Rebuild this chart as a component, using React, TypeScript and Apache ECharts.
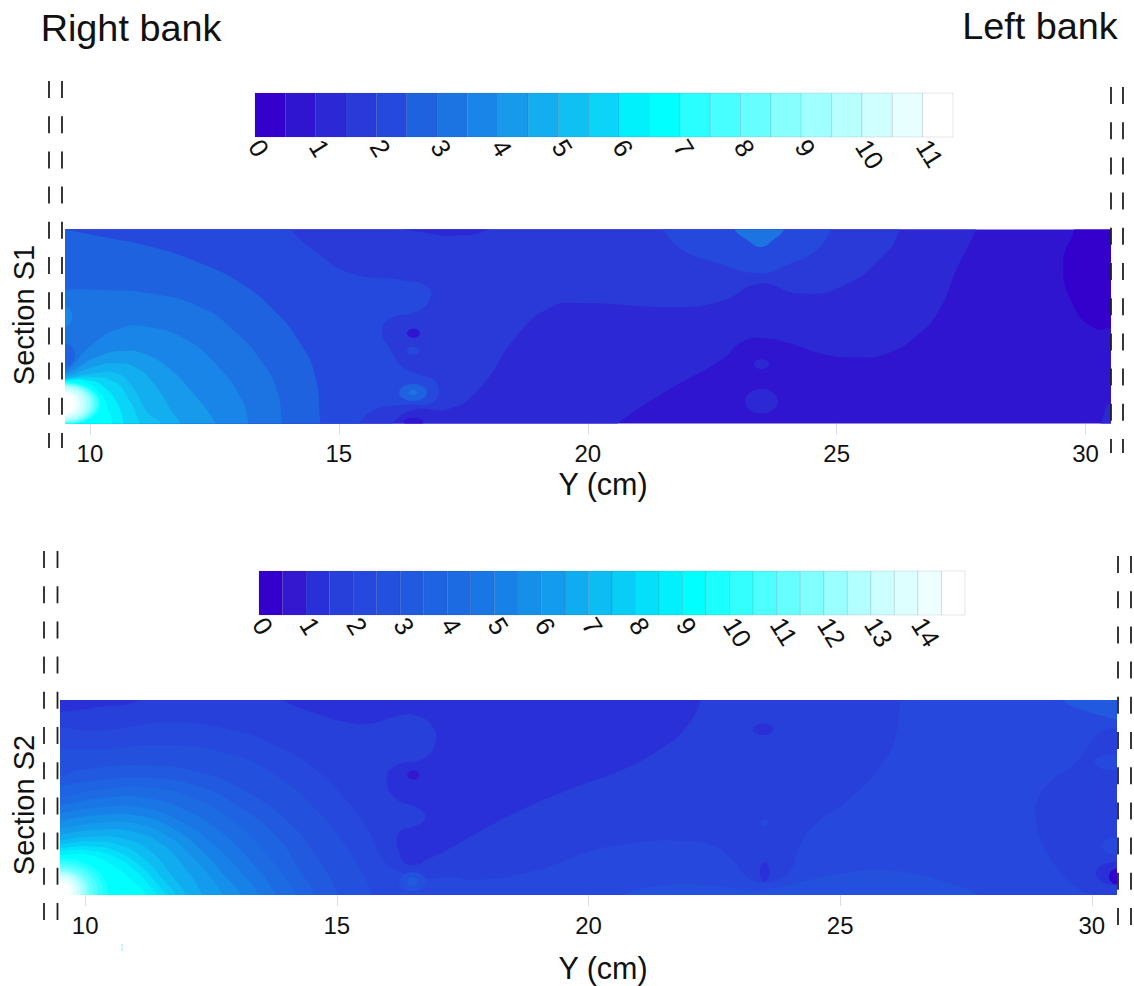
import React, { useEffect, useRef } from "react";
import * as echarts from "echarts";

const FONT = '"Liberation Sans", Arial, sans-serif';
const Y_TICKS = [10, 15, 20, 25, 30];
const S1_BAR_TICKS = [0, 1, 2, 3, 4, 5, 6, 7, 8, 9, 10, 11];
const S2_BAR_TICKS = [0, 1, 2, 3, 4, 5, 6, 7, 8, 9, 10, 11, 12, 13, 14];

const S1_COLORS = ["#3300cc", "#2f14d0", "#2c28d4", "#2a3ad8", "#2549dc", "#1f62e0", "#1c74e3", "#1a85e8", "#179aeb", "#13aeef", "#10c0f2", "#0ad5f8", "#00f0fc", "#00ffff", "#2affff", "#48ffff", "#66ffff", "#88ffff", "#a0ffff", "#b8ffff", "#d0ffff", "#e8ffff", "#ffffff"];
const S2_COLORS = ["#3300cc", "#3318d0", "#2a30d8", "#2840da", "#2648dc", "#2450de", "#2159df", "#1e63e1", "#1c6be3", "#1a75e5", "#1881e8", "#1590ea", "#139bed", "#10acf0", "#0cbcf3", "#08cdf6", "#04e0fa", "#00f0fd", "#00ffff", "#1affff", "#33ffff", "#4dffff", "#66ffff", "#80ffff", "#99ffff", "#b3ffff", "#ccffff", "#ddffff", "#eeffff", "#ffffff"];

// Section S1 contour bands: [Y cm, height %]
const S1_FULL = [[9, -8], [31, -8], [31, 108], [9, 108]];
const S1_DARK_RIGHT = [[29.77, 108], [29.77, 100], [29.55, 83], [29.77, 60], [30.2, 49], [30.55, 49.5], [31.2, 49], [31.2, 108]];
const S1_CORNER = [[30.2, -3], [30.3, 0], [30.5, 11], [30.9, 12], [30.9, -3]];
const S1_A = [[20.6, 0], [21.6, 17], [22.7, 33], [23.1, 42], [23.55, 44], [24.1, 41], [24.7, 36], [25.4, 34], [26, 36], [26.6, 45], [27.05, 58], [27.4, 79], [27.8, 100], [27.9, 108], [9, 108], [9, -8], [20.3, -8]];
const S1_B = [[16.07, 0], [16.5, 7], [17.24, 7.7], [17.86, 19], [18.56, 44.7], [19.26, 60], [19.88, 62], [21.8, 60], [22.68, 63], [23.47, 72], [24.25, 67], [25.13, 71], [26, 88], [26.27, 100], [26.4, 108], [9, 108], [9, -8], [15.9, -8]];
const S1_TOP_BLOT = [[16, 103], [16.8, 98], [17.5, 97], [18, 100], [18.1, 104]];
const S1_C = [[14.03, 100], [14.56, 88], [15.23, 77.5], [16.24, 74], [16.77, 70.6], [16.84, 64.5], [16.57, 57.7], [16.04, 54.2], [15.87, 47.3], [16.04, 37.9], [16.27, 29.3], [16.57, 25.8], [16.97, 20.7], [16.9, 11.2], [16.24, 9.5], [15.7, 6.9], [15.4, 0], [15.2, -8], [9, -8], [9, 108], [13.8, 108]];
const S1_LOBE = [[21.3, 108], [21.5, 100], [21.9, 89.5], [22.5, 83.5], [23.47, 77.5], [24.08, 82.6], [24.6, 89.5], [24.9, 100], [25.1, 108]];
const S1_LOBE_IN = [[22.8, 108], [22.94, 100], [23.2, 94.7], [23.47, 91], [23.73, 94.7], [23.95, 100], [24.1, 108]];
const S1_D = [[9, 103], [9.51, 100], [10.21, 96.4], [11.22, 91.2], [12.22, 82.6], [13.03, 72.3], [13.69, 58.5], [14.23, 41.3], [14.53, 24], [14.63, 0], [14.65, -8], [9, -8]];
const S1_E = [[9, 69], [9.51, 69], [10.21, 68.8], [11.22, 67], [12.22, 60], [12.89, 48], [13.43, 32.7], [13.76, 17], [13.86, 0], [13.9, -8], [9, -8]];
const S1_F = [[9, 20], [9.55, 27.6], [10, 39.6], [10.6, 49], [11.2, 49.6], [11.95, 43], [12.55, 30], [13.02, 13.8], [13.19, 0], [13.2, -8], [9, -8]];
const S1_G = [[9, 20], [9.55, 25.8], [10.15, 34.4], [10.68, 37.5], [11.08, 36], [11.55, 29.3], [12.08, 15.5], [12.52, 0], [12.6, -8], [9, -8]];
const S1_H = [[9, 22], [9.55, 24.5], [10.08, 29.3], [10.55, 31], [10.95, 28.4], [11.28, 20.7], [11.68, 5], [11.82, 0], [11.9, -8], [9, -8]];
const S1_I = [[9, 22], [9.55, 23.5], [10.08, 25.8], [10.55, 25.8], [10.85, 19], [11.18, 5], [11.42, 0], [11.45, -8], [9, -8]];
const S1_J = [[9, 22], [9.55, 23], [10, 24], [10.48, 21.6], [10.75, 13.8], [11, 0], [11.05, -8], [9, -8]];
const S1_K = [[9, 21], [9.55, 22.5], [9.95, 22.4], [10.28, 19], [10.55, 10.4], [10.68, 0], [10.72, -8], [9, -8]];
const S1_L = [[9, 21], [9.55, 22], [9.88, 21.5], [10.2, 15.5], [10.38, 7], [10.45, 0], [10.5, -8], [9, -8]];
const S1_BANDS: [number[][], number][] = [
  [S1_FULL, 1], [S1_DARK_RIGHT, 0], [S1_CORNER, 2], [S1_A, 2], [S1_B, 3], [S1_TOP_BLOT, 2], [S1_C, 4], [S1_LOBE, 4], [S1_LOBE_IN, 6],
  [S1_D, 5], [S1_E, 6], [S1_F, 7], [S1_G, 8], [S1_H, 9], [S1_I, 10], [S1_J, 11], [S1_K, 12], [S1_L, 13],
];
// spots: Y cm, height %, radius cm, radius %, colour index
const S1_SPOTS = [
  [23.49, 30.6, 0.15, 2.5, 2], [23.49, 11.5, 0.33, 6.3, 2],
  [16.5, 46.5, 0.13, 2.4, 1], [16.49, 37.5, 0.12, 2, 4], [16.49, 16, 0.28, 4.3, 5], [16.49, 16, 0.08, 1.5, 6], [16.5, 0.8, 0.2, 2.2, 1],
  [9.5, 55, 0.14, 5, 7], [9.5, 35.3, 0.2, 6, 5],
  [9.5, 10.3, 0.7, 11, 14], [9.5, 10.3, 0.65, 10.5, 15], [9.5, 10.3, 0.6, 10, 16], [9.5, 10.3, 0.55, 9.5, 17], [9.5, 10.3, 0.5, 9, 18],
  [9.5, 10.3, 0.45, 8.5, 19], [9.5, 10.3, 0.38, 7.7, 20], [9.5, 10.3, 0.3, 6.5, 21], [9.5, 10.3, 0.22, 5, 22],
];

// Section S2 contour bands
const S2_FULL = [[9, -8], [31, -8], [31, 108], [9, 108]];
const S2_BOTTOM = [[20.4, -8], [20.72, 0], [21.33, 4.3], [21.94, 5.5], [22.63, 4.3], [23.32, 2.6], [23.85, 4.3], [24.37, 7.7], [25.06, 11], [25.76, 12.8], [26.45, 11], [27.06, 6.8], [27.75, 0], [28, -8]];
const S2_C = [[9, 86], [9.5, 86], [10.22, 84], [11.62, 88.4], [12.94, 84.5], [13.93, 75], [14.6, 64], [15.19, 48.6], [15.66, 31.6], [15.92, 18], [16.25, 12], [16.78, 8.5], [17.25, 9.4], [17.77, 7.7], [18.98, 12.8], [20.1, 23], [20.98, 26.8], [21.76, 27.8], [22.37, 26], [22.8, 19.6], [23.15, 9.4], [23.5, 6.3], [23.76, 7.7], [24.02, 12.8], [24.19, 24.7], [24.45, 35], [25.23, 50.3], [25.84, 67.4], [26.1, 81], [26.19, 100], [26.2, 108], [9, 108]];
const S2_DARK = [[13.6, 108], [13.93, 100], [14.6, 93], [15.19, 88.7], [15.66, 87.9], [16.25, 92], [16.58, 92], [16.91, 86], [16.95, 77.6], [16.72, 70], [16.19, 66.6], [15.99, 60.6], [16.15, 50], [16.65, 44], [16.75, 39], [16.52, 35], [16.25, 32.4], [16.22, 23], [16.45, 15.4], [16.91, 19.6], [17.25, 24], [18.38, 40], [19.59, 53.8], [20.72, 64.8], [21.5, 76], [21.94, 86], [22.24, 100], [22.3, 108]];
const S2_STRIP = [[9, 94], [9.5, 93.9], [10.29, 96.4], [11.09, 100], [11.3, 108], [9, 108]];
const S2_RIGHT_DARK = [[31, 86], [30.53, 86], [30.18, 83.6], [29.92, 76], [29.66, 67.4], [29.14, 57], [28.92, 48.6], [28.88, 40], [29.05, 24.7], [29.4, 11], [29.75, 2.6], [30, 0], [30.2, -6], [31, -6]];
const S2_RIGHT_TOP = [[29.2, 108], [29.4, 100], [29.83, 94.7], [30.18, 92], [30.53, 90], [31, 90], [31, 108]];
const S2_5 = [[9, 74.6], [9.5, 74.6], [10.29, 74.6], [11.62, 76.8], [12.94, 71.7], [13.93, 58.9], [14.66, 41.8], [15.19, 24.7], [15.52, 10.2], [15.72, 0], [15.8, -8], [9, -8]];
const S2_6 = [[9, 60], [9.5, 61], [9.96, 64.3], [11.15, 66.6], [12.28, 63], [13.27, 52], [14.07, 36.7], [14.6, 19.6], [15.03, 0], [15.1, -8], [9, -8]];
const S2_7 = [[9, 54], [9.5, 56], [10.29, 59], [11.28, 60], [12.28, 55.5], [13.07, 45], [13.8, 30], [14.26, 12.8], [14.56, 0], [14.6, -8], [9, -8]];
const S2_8 = [[9, 48], [9.5, 50], [10.29, 54], [11.28, 55], [12.15, 49.6], [12.87, 39], [13.54, 23], [14, 7.7], [14.2, 0], [14.3, -8], [9, -8]];
const S2_9 = [[9, 44], [9.5, 46], [10.29, 49.5], [11.15, 50], [12, 43.5], [12.67, 33], [13.27, 18], [13.8, 0], [13.9, -8], [9, -8]];
const S2_10 = [[9, 40], [9.5, 42], [10.29, 45], [11.09, 45], [11.88, 38], [12.5, 27], [13.05, 13], [13.45, 0], [13.5, -8], [9, -8]];
const S2_11 = [[9, 36], [9.5, 38], [10.29, 41], [11.09, 40.5], [11.75, 34], [12.3, 23], [12.8, 9], [13.1, 0], [13.15, -8], [9, -8]];
const S2_12 = [[9, 32], [9.5, 34], [10.29, 37], [11.02, 36.5], [11.65, 30], [12.15, 19], [12.55, 7], [12.73, 0], [12.8, -8], [9, -8]];
const S2_13 = [[9, 29], [9.5, 31], [10.29, 33.5], [10.95, 32.5], [11.5, 26.5], [11.95, 15], [12.33, 0], [12.4, -8], [9, -8]];
const S2_14 = [[9, 26], [9.5, 28], [10.22, 30], [10.82, 28.5], [11.3, 22.5], [11.72, 10], [12, 0], [12.1, -8], [9, -8]];
const S2_15 = [[9, 25], [9.5, 26], [10.16, 27.5], [10.7, 25.5], [11.15, 19], [11.55, 8], [11.8, 0], [11.9, -8], [9, -8]];
const S2_16 = [[9, 23], [9.5, 24], [10.1, 25], [10.6, 22.5], [11.05, 16], [11.42, 6], [11.6, 0], [11.7, -8], [9, -8]];
const S2_17 = [[9, 22], [9.5, 22.5], [10.06, 23], [10.6, 19.5], [11, 12.5], [11.27, 5], [11.42, 0], [11.5, -8], [9, -8]];
const S2_18 = [[9, 20], [9.5, 20.5], [10.06, 20.5], [10.59, 14.5], [10.99, 6], [11.22, 0], [11.3, -8], [9, -8]];
const S2_BANDS: [number[][], number][] = [
  [S2_FULL, 4], [S2_BOTTOM, 5], [S2_RIGHT_DARK, 3], [S2_RIGHT_TOP, 6], [S2_C, 3], [S2_DARK, 2], [S2_STRIP, 2],
  [S2_5, 5], [S2_6, 6], [S2_7, 7], [S2_8, 8], [S2_9, 9], [S2_10, 10], [S2_11, 11], [S2_12, 12], [S2_13, 13], [S2_14, 14], [S2_15, 15], [S2_16, 16], [S2_17, 17], [S2_18, 18],
];
const S2_SPOTS = [
  [30.4, 68, 0.35, 4, 4], [30.5, 25, 0.3, 4.5, 4], [30.5, 11, 0.42, 6, 2], [30.5, 9.5, 0.16, 4, 0],
  [23.47, 85, 0.2, 3, 2], [23.5, 37, 0.08, 1.7, 4], [23.5, 12, 0.1, 5, 2],
  [16.52, 61.5, 0.12, 2.3, 1], [16.5, 6.8, 0.27, 5, 5], [16.5, 6.8, 0.1, 2.5, 6],
  [9.5, 2, 0.95, 17, 19], [9.5, 2, 0.85, 15.5, 20], [9.5, 2, 0.75, 14, 21], [9.5, 2, 0.66, 12.8, 22], [9.5, 2, 0.58, 11.5, 23], [9.5, 2, 0.52, 10.5, 24],
  [9.5, 2, 0.46, 9.5, 25], [9.5, 2, 0.4, 8.5, 26], [9.5, 2, 0.34, 7.3, 27], [9.5, 2, 0.27, 6, 28], [9.5, 2, 0.2, 4.5, 29],
];

function contourSeries(i: number, bands: [number[][], number][], spots: number[][], colors: string[]) {
  return {
    type: "custom", xAxisIndex: i, yAxisIndex: i, clip: true, silent: true,
    data: [...bands.map((_, k) => [k]), ...spots.map((_, k) => [bands.length + k])],
    renderItem: (params: any, api: any) => {
      const k = params.dataIndex;
      if (k < bands.length) {
        const [pts, c] = bands[k];
        return { type: "polygon", shape: { points: pts.map((p) => api.coord(p)), smooth: 0.5 }, style: { fill: colors[c] } };
      }
      const [x, y, rx, ry, c] = spots[k - bands.length];
      const [cx, cy] = api.coord([x, y]);
      const [w, h] = api.size([rx, ry]);
      return { type: "ellipse", shape: { cx, cy, rx: w, ry: h }, style: { fill: colors[c] } };
    },
  };
}
function barSeries(i: number, colors: string[]) {
  return {
    type: "custom", xAxisIndex: i, yAxisIndex: i, silent: true,
    data: colors.map((_, k) => [k]),
    renderItem: (params: any, api: any) => {
      const k = params.dataIndex;
      const a = api.coord([k * 0.5, 1]);
      const b = api.coord([(k + 1) * 0.5, 0]);
      return { type: "rect", shape: { x: a[0], y: a[1], width: b[0] - a[0], height: b[1] - a[1] }, style: { fill: colors[k], stroke: "rgba(40,60,90,0.22)", lineWidth: 0.6 } };
    },
  };
}
function plotAxis(i: number) {
  return {
    type: "value", gridIndex: i, min: 9.5, max: 30.5,
    axisLine: { show: false }, splitLine: { show: false },
    axisTick: { show: true, length: 11, customValues: Y_TICKS, lineStyle: { color: "#dddddd", width: 1 } },
    axisLabel: { show: true, customValues: Y_TICKS, margin: 18, fontSize: 24, color: "#111111", fontFamily: FONT },
  };
}
function barAxis(i: number, max: number, ticks: number[]) {
  return {
    type: "value", gridIndex: i, min: 0, max,
    axisLine: { show: false }, splitLine: { show: false }, axisTick: { show: false },
    axisLabel: { show: true, customValues: ticks, rotate: -58, margin: 5, fontSize: 26, color: "#111111", fontFamily: FONT },
  };
}
const hiddenY = (i: number, max: number) => ({ type: "value", gridIndex: i, min: 0, max, show: false });

// bank marks: x, first y, last y
const BANK_LINES = [
  [49, 81, 448], [62, 81, 448], [1111, 87, 453], [1123, 87, 453],
  [44, 551, 920], [57.5, 551, 920], [1118, 556, 925], [1131, 556, 925],
];
const TEXTS: [string, number, number, number, number][] = [
  ["Right bank", 131, 28, 37.8, 0], ["Left bank", 1040, 26, 37.8, 0],
  ["Section S1", 24, 315, 29, 90], ["Section S2", 24, 805, 29, 90],
  ["Y (cm)", 603, 484, 30.5, 0], ["Y (cm)", 603, 968, 30.5, 0],
];

export default function App() {
  const ref = useRef<HTMLDivElement>(null);
  useEffect(() => {
    const chart = echarts.init(ref.current!, undefined, { renderer: "svg" });
    chart.setOption({
      animation: false,
      backgroundColor: "#ffffff",
      grid: [
        { left: 65, top: 229.5, width: 1045.5, height: 194 },
        { left: 60, top: 700, width: 1057, height: 195 },
        { left: 255, top: 93, width: 698, height: 44 },
        { left: 259, top: 571, width: 706, height: 44 },
      ],
      xAxis: [plotAxis(0), plotAxis(1), barAxis(2, 11.5, S1_BAR_TICKS), barAxis(3, 15, S2_BAR_TICKS)],
      yAxis: [hiddenY(0, 100), hiddenY(1, 100), hiddenY(2, 1), hiddenY(3, 1)],
      series: [
        contourSeries(0, S1_BANDS, S1_SPOTS, S1_COLORS),
        contourSeries(1, S2_BANDS, S2_SPOTS, S2_COLORS),
        barSeries(2, S1_COLORS),
        barSeries(3, S2_COLORS),
      ],
      graphic: {
        elements: [
          ...BANK_LINES.map(([x, y1, y2]) => ({
            type: "line", z: 20, shape: { x1: x, y1, x2: x, y2 },
            style: { stroke: "#222222", lineWidth: 1.8, lineDash: [17, 18.2] },
          })),
          ...TEXTS.map(([text, x, y, size, rot]) => ({
            type: "text", z: 20, x, y, rotation: (rot * Math.PI) / 180,
            style: { text, fill: "#111111", font: `${size}px ${FONT}`, align: "center", verticalAlign: "middle" },
          })),
          { type: "line", z: 20, shape: { x1: 122, y1: 944, x2: 122, y2: 951 }, style: { stroke: "#7fefff", lineWidth: 1, lineDash: [3, 1] } },
        ],
      },
    });
    return () => chart.dispose();
  }, []);
  return <div ref={ref} style={{ position: "absolute", left: 0, top: 0, width: 1134, height: 986 }} />;
}
